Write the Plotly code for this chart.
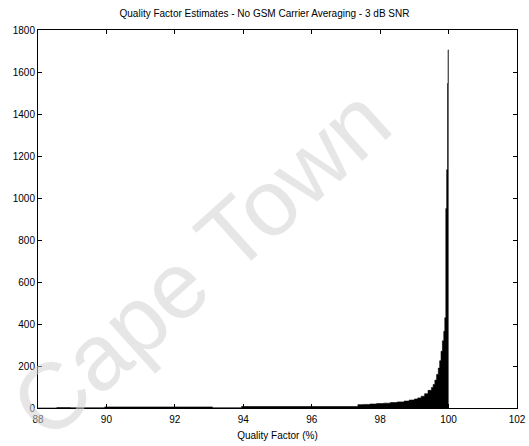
import plotly.graph_objects as go

# Histogram of quality factor estimates: bin edges (%) and counts per bin
bin_edges = [
    88.0, 88.55, 88.95, 89.95, 93.1, 93.95, 97.35,
    97.5, 97.7, 97.9, 98.1, 98.3, 98.5, 98.7, 98.85, 99.0,
    99.1, 99.2, 99.3, 99.4, 99.5, 99.55, 99.6, 99.65, 99.7,
    99.74, 99.78, 99.82, 99.86, 99.89, 99.92, 99.945, 99.97,
    99.985, 100.0,
]
bin_counts = [
    0, 2, 1, 5, 1, 7,
    16, 17, 19, 21, 23, 26, 29, 33, 38,
    43, 48, 56, 68, 84, 98, 112, 133, 160,
    190, 225, 270, 320, 365, 430, 950, 1135,
    1545, 1705,
]

x_ticks = [88, 90, 92, 94, 96, 98, 100, 102]
y_ticks = [0, 200, 400, 600, 800, 1000, 1200, 1400, 1600, 1800]

title_text = "Quality Factor Estimates - No GSM Carrier Averaging - 3 dB SNR"
x_title = "Quality Factor (%)"
watermark = "Cape Town"

font_family = "Liberation Sans, Arial, sans-serif"

fig = go.Figure()

# Stair-step outline filled down to zero, one step per bin
fig.add_trace(go.Scatter(
    x=bin_edges,
    y=bin_counts + [bin_counts[-1]],
    mode="lines",
    line=dict(shape="hv", color="black", width=0.6),
    fill="tozeroy",
    fillcolor="black",
    hoverinfo="skip",
    showlegend=False,
))

axis_common = dict(
    showline=True,
    linecolor="black",
    linewidth=1,
    mirror="ticks",
    ticks="inside",
    ticklen=4,
    tickcolor="black",
    tickwidth=1,
    showgrid=False,
    zeroline=False,
    automargin=False,
    tickfont=dict(family=font_family, size=10, color="black"),
)

fig.update_xaxes(
    range=[88, 102],
    tickvals=x_ticks,
    ticktext=[str(v) for v in x_ticks],
    ticklabelstandoff=2,
    title=dict(text=x_title, font=dict(family=font_family, size=10, color="black"),
               standoff=7),
    **axis_common,
)
fig.update_yaxes(
    range=[0, 1800],
    tickvals=y_ticks,
    ticktext=[str(v) for v in y_ticks],
    **axis_common,
)

# Faint diagonal watermark across the plot
fig.add_annotation(
    text=watermark,
    xref="paper", yref="paper",
    x=0.34, y=0.385,
    showarrow=False,
    textangle=-42,
    font=dict(family=font_family, size=94, color="rgba(210,210,210,0.55)"),
)

fig.update_layout(
    width=529,
    height=446,
    margin=dict(l=38, r=12, t=30, b=38),
    paper_bgcolor="white",
    plot_bgcolor="white",
    title=dict(
        text=title_text,
        x=0.5, xanchor="center",
        y=0.97, yanchor="middle",
        font=dict(family=font_family, size=10, color="black"),
    ),
    font=dict(family=font_family, size=10, color="black"),
)

fig.write_html("out.html")
